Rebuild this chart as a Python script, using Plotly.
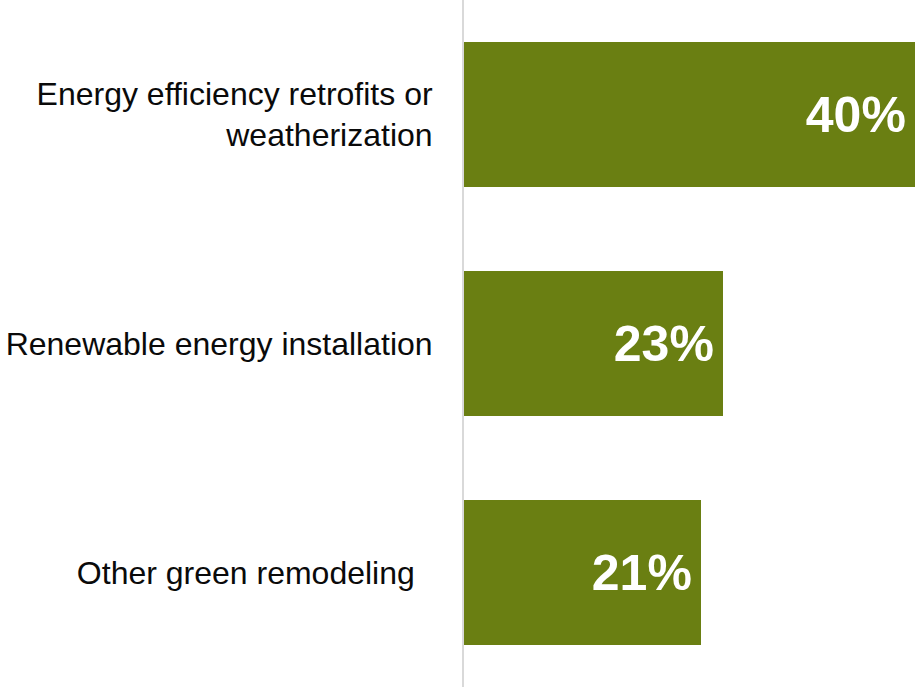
import plotly.graph_objects as go

# Survey shares by type of green remodeling work
categories = [
    "Energy efficiency retrofits or<br>weatherization",
    "Renewable energy installation",
    "Other green remodeling\u00a0\u00a0",
]
shares = [40, 23, 21]

BAR_COLOR = "#6a7f12"
FONT = "Liberation Sans, Arial, sans-serif"

fig = go.Figure(
    go.Bar(
        x=shares,
        y=categories,
        orientation="h",
        width=0.635,
        marker=dict(color=BAR_COLOR, line=dict(width=0)),
        text=[f"{v}%<span style='font-size:22px'>\u00a0</span>" for v in shares],
        textposition="inside",
        insidetextanchor="end",
        textfont=dict(family=FONT, size=50, color="white", weight="bold"),
        hoverinfo="skip",
    )
)

fig.update_layout(
    width=915,
    height=687,
    margin=dict(l=464, r=0, t=0, b=0),
    paper_bgcolor="white",
    plot_bgcolor="white",
    showlegend=False,
    bargap=0,
    xaxis=dict(
        range=[0, 40],
        visible=False,
        fixedrange=True,
    ),
    yaxis=dict(
        autorange="reversed",
        showgrid=False,
        zeroline=False,
        showline=True,
        linecolor="#d9d9d9",
        linewidth=2,
        ticks="",
        ticklabelstandoff=23,
        tickfont=dict(family=FONT, size=32, color="#0a0a0a"),
        fixedrange=True,
    ),
)

fig.write_html("out.html")
